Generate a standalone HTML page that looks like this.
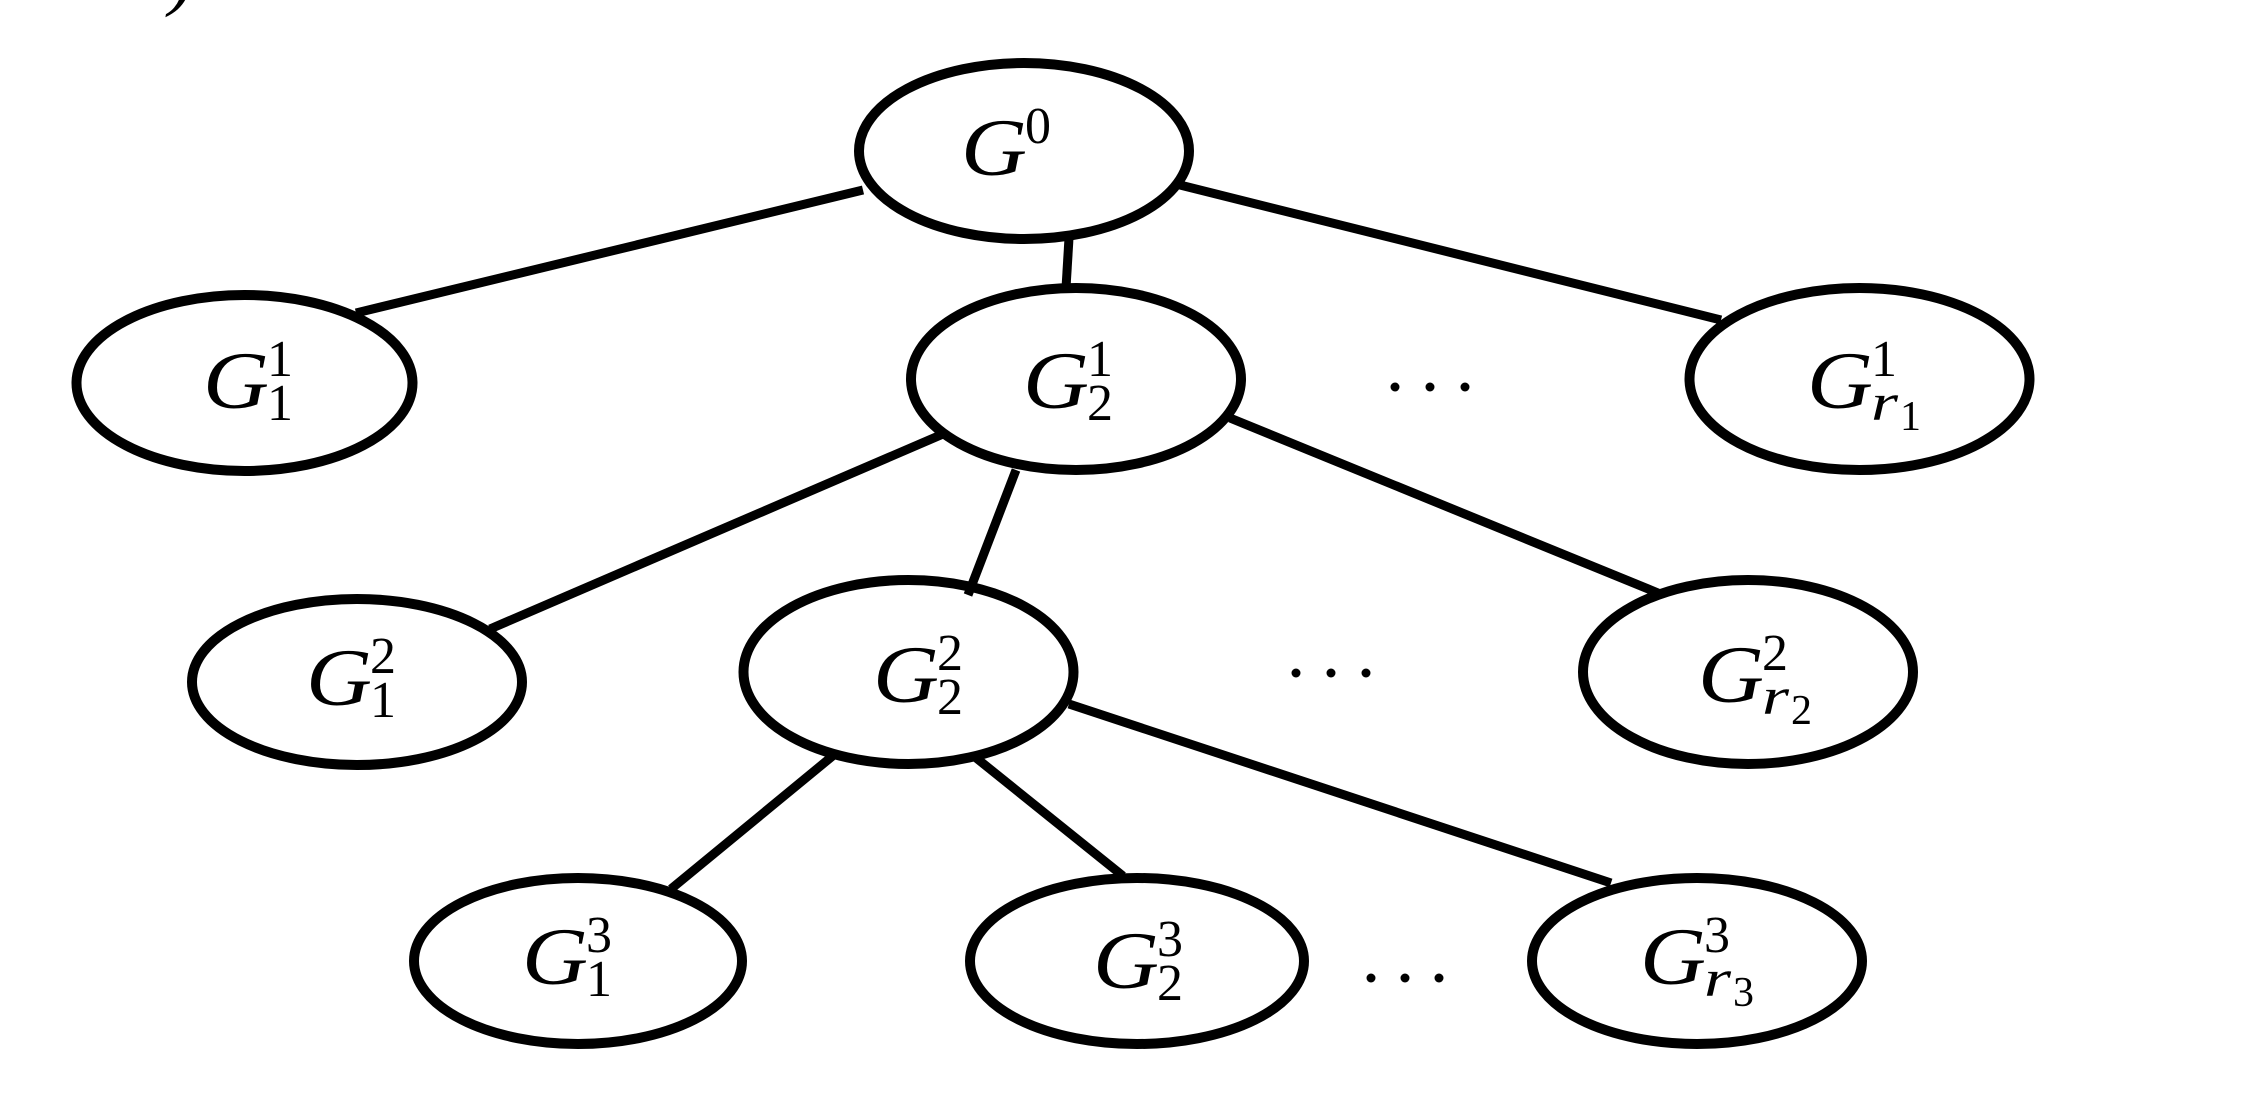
<!DOCTYPE html>
<html>
<head>
<meta charset="utf-8">
<style>
html,body{margin:0;padding:0;background:#fff;width:2262px;height:1098px;overflow:hidden}
svg{display:block}
ellipse{fill:none;stroke:#000;stroke-width:10}
line{stroke:#000;stroke-width:9}
text{font-family:"Liberation Serif",serif;fill:#000}
.g{font-size:82px;font-style:italic}
.d{font-size:52px}
.r{font-size:52px;font-style:italic}
.s{font-size:42px}
</style>
</head>
<body>
<svg width="2262" height="1098" viewBox="0 0 2262 1098" xmlns="http://www.w3.org/2000/svg">
<rect width="2262" height="1098" fill="#fff"/>
<text x="169" y="1" font-size="76" font-style="italic">)</text>

<line x1="863" y1="190" x2="356" y2="313"/>
<line x1="1180" y1="185" x2="1721" y2="320"/>
<line x1="1069" y1="238" x2="1066" y2="288"/>
<line x1="943" y1="434" x2="490" y2="629"/>
<line x1="1016" y1="470" x2="968" y2="595"/>
<line x1="1230" y1="418" x2="1658" y2="593"/>
<line x1="835" y1="754" x2="671" y2="889"/>
<line x1="975" y1="757" x2="1123" y2="876"/>
<line x1="1069" y1="704" x2="1611" y2="883"/>

<ellipse cx="1024" cy="151" rx="165" ry="88"/>
<ellipse cx="244.5" cy="383" rx="168" ry="88"/>
<ellipse cx="1076" cy="379" rx="165" ry="91"/>
<ellipse cx="1859.5" cy="379" rx="170" ry="91"/>
<ellipse cx="357" cy="682" rx="165" ry="83"/>
<ellipse cx="908.5" cy="672" rx="165" ry="92"/>
<ellipse cx="1748" cy="672" rx="165" ry="92"/>
<ellipse cx="578" cy="961" rx="164" ry="83"/>
<ellipse cx="1137" cy="961" rx="167" ry="83"/>
<ellipse cx="1697" cy="961" rx="165" ry="83"/>

<text class="g" x="961" y="175" textLength="66" lengthAdjust="spacingAndGlyphs">G</text><text class="d" x="1025" y="143">0</text>

<text class="g" x="203" y="408" textLength="66" lengthAdjust="spacingAndGlyphs">G</text><text class="d" x="267" y="376">1</text><text class="d" x="267" y="420">1</text>
<text class="g" x="1023" y="408" textLength="66" lengthAdjust="spacingAndGlyphs">G</text><text class="d" x="1087" y="376">1</text><text class="d" x="1087" y="420">2</text>
<text class="g" x="1807" y="408" textLength="66" lengthAdjust="spacingAndGlyphs">G</text><text class="d" x="1871" y="376">1</text><text class="r" x="1871" y="420" textLength="27" lengthAdjust="spacingAndGlyphs">r</text><text class="s" x="1900" y="430">1</text>

<text class="g" x="306" y="705" textLength="66" lengthAdjust="spacingAndGlyphs">G</text><text class="d" x="370" y="673">2</text><text class="d" x="370" y="717">1</text>
<text class="g" x="873" y="702" textLength="66" lengthAdjust="spacingAndGlyphs">G</text><text class="d" x="937" y="670">2</text><text class="d" x="937" y="714">2</text>
<text class="g" x="1698" y="702" textLength="66" lengthAdjust="spacingAndGlyphs">G</text><text class="d" x="1762" y="670">2</text><text class="r" x="1762" y="714" textLength="27" lengthAdjust="spacingAndGlyphs">r</text><text class="s" x="1791" y="724">2</text>

<text class="g" x="522" y="984" textLength="66" lengthAdjust="spacingAndGlyphs">G</text><text class="d" x="586" y="952">3</text><text class="d" x="586" y="996">1</text>
<text class="g" x="1093" y="988" textLength="66" lengthAdjust="spacingAndGlyphs">G</text><text class="d" x="1157" y="956">3</text><text class="d" x="1157" y="1000">2</text>
<text class="g" x="1640" y="984" textLength="66" lengthAdjust="spacingAndGlyphs">G</text><text class="d" x="1704" y="952">3</text><text class="r" x="1704" y="996" textLength="27" lengthAdjust="spacingAndGlyphs">r</text><text class="s" x="1733" y="1006">3</text>

<circle cx="1395" cy="387" r="4.5"/><circle cx="1430" cy="387" r="4.5"/><circle cx="1465" cy="387" r="4.5"/>
<circle cx="1296" cy="673" r="4.5"/><circle cx="1331" cy="673" r="4.5"/><circle cx="1366" cy="673" r="4.5"/>
<circle cx="1371" cy="978" r="4.5"/><circle cx="1405" cy="978" r="4.5"/><circle cx="1439" cy="978" r="4.5"/>
</svg>
</body>
</html>
